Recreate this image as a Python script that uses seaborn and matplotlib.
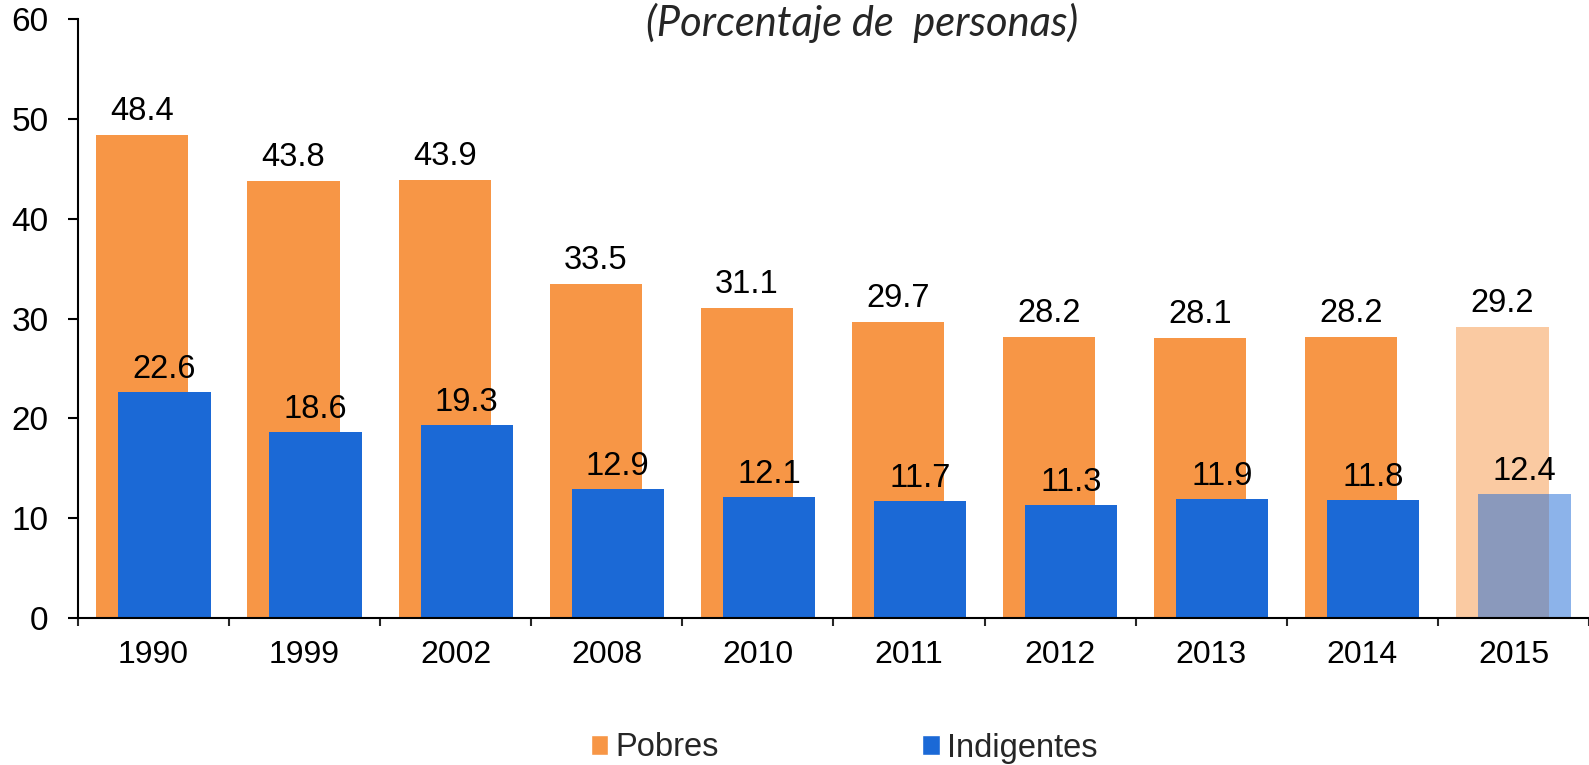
import matplotlib
matplotlib.use("Agg")
import matplotlib.pyplot as plt
from matplotlib.patches import Patch
import numpy as np
import pandas as pd
import seaborn as sns

# data
years = ["1990", "1999", "2002", "2008", "2010", "2011", "2012", "2013", "2014", "2015"]
pobres = [48.4, 43.8, 43.9, 33.5, 31.1, 29.7, 28.2, 28.1, 28.2, 29.2]
indigentes = [22.6, 18.6, 19.3, 12.9, 12.1, 11.7, 11.3, 11.9, 11.8, 12.4]

ORANGE = "#F79646"
BLUE = "#1B69D6"

sns.set_theme(style="white")
plt.rcParams["font.family"] = ["Liberation Sans", "DejaVu Sans"]

fig = plt.figure(figsize=(15.89, 7.65), dpi=100)
ax = fig.add_axes([0.049, 0.192, 0.951, 0.783])

idx = np.arange(len(years))
shift = 0.073
width = 0.61

df = pd.DataFrame({"year": years, "pos": idx, "Pobres": pobres, "Indigentes": indigentes})

sns.barplot(x=df["pos"] - shift, y=df["Pobres"], native_scale=True, width=width,
            color=ORANGE, saturation=1, errorbar=None, ax=ax)
n_orange = len(ax.patches)
sns.barplot(x=df["pos"] + shift, y=df["Indigentes"], native_scale=True, width=width,
            color=BLUE, saturation=1, errorbar=None, ax=ax)

orange_bars = ax.patches[:n_orange]
blue_bars = ax.patches[n_orange:]
for bars in (orange_bars, blue_bars):
    for b in bars:
        b.set_linewidth(0)
# 2015 is a projection: paler bars
orange_bars[-1].set_alpha(0.5)
blue_bars[-1].set_alpha(0.5)

# value labels
for i in range(len(years)):
    ax.text(idx[i] - shift, pobres[i] + 1.5, f"{pobres[i]:.1f}", ha="center", va="baseline",
            fontsize=23.5, color="black")
    ax.text(idx[i] + shift, indigentes[i] + 1.45, f"{indigentes[i]:.1f}", ha="center",
            va="baseline", fontsize=23.5, color="black")

ax.set_xlim(-0.5, 9.5)
ax.set_ylim(0, 60)
ax.set_yticks([0, 10, 20, 30, 40, 50, 60])
ax.tick_params(axis="y", which="major", left=True, length=7, width=1.5, pad=14,
               labelsize=24, colors="black")

# boundary ticks on x, labels at category centers
ax.set_xticks(np.arange(-0.5, 9.6, 1.0))
ax.set_xticklabels([])
ax.set_xticks(idx, minor=True)
ax.set_xticklabels(years, minor=True)
ax.tick_params(axis="x", which="major", bottom=True, length=6, width=1.5, direction="out")
ax.tick_params(axis="x", which="minor", bottom=False, length=0, pad=16, labelsize=23,
               colors="black")
ax.set_xlabel("")
ax.set_ylabel("")

for s in ("top", "right"):
    ax.spines[s].set_visible(False)
for s in ("left", "bottom"):
    ax.spines[s].set_color("black")
    ax.spines[s].set_linewidth(1.5)

fig.text(862 / 1589, 1 - 23 / 765, "(Porcentaje de  personas)", ha="center", va="center",
         fontsize=30, style="italic", family=["Lato", "DejaVu Sans"])

handles = [Patch(facecolor=ORANGE, label="Pobres"), Patch(facecolor=BLUE, label="Indigentes")]
fig.legend(handles=handles, loc="center", bbox_to_anchor=(844 / 1589, 1 - 748 / 765),
           ncol=2, frameon=False, fontsize=23.5, handlelength=0.53, handleheight=0.53,
           handletextpad=0.21, columnspacing=6.25, borderaxespad=0)

fig.savefig("out.png", dpi=100)
